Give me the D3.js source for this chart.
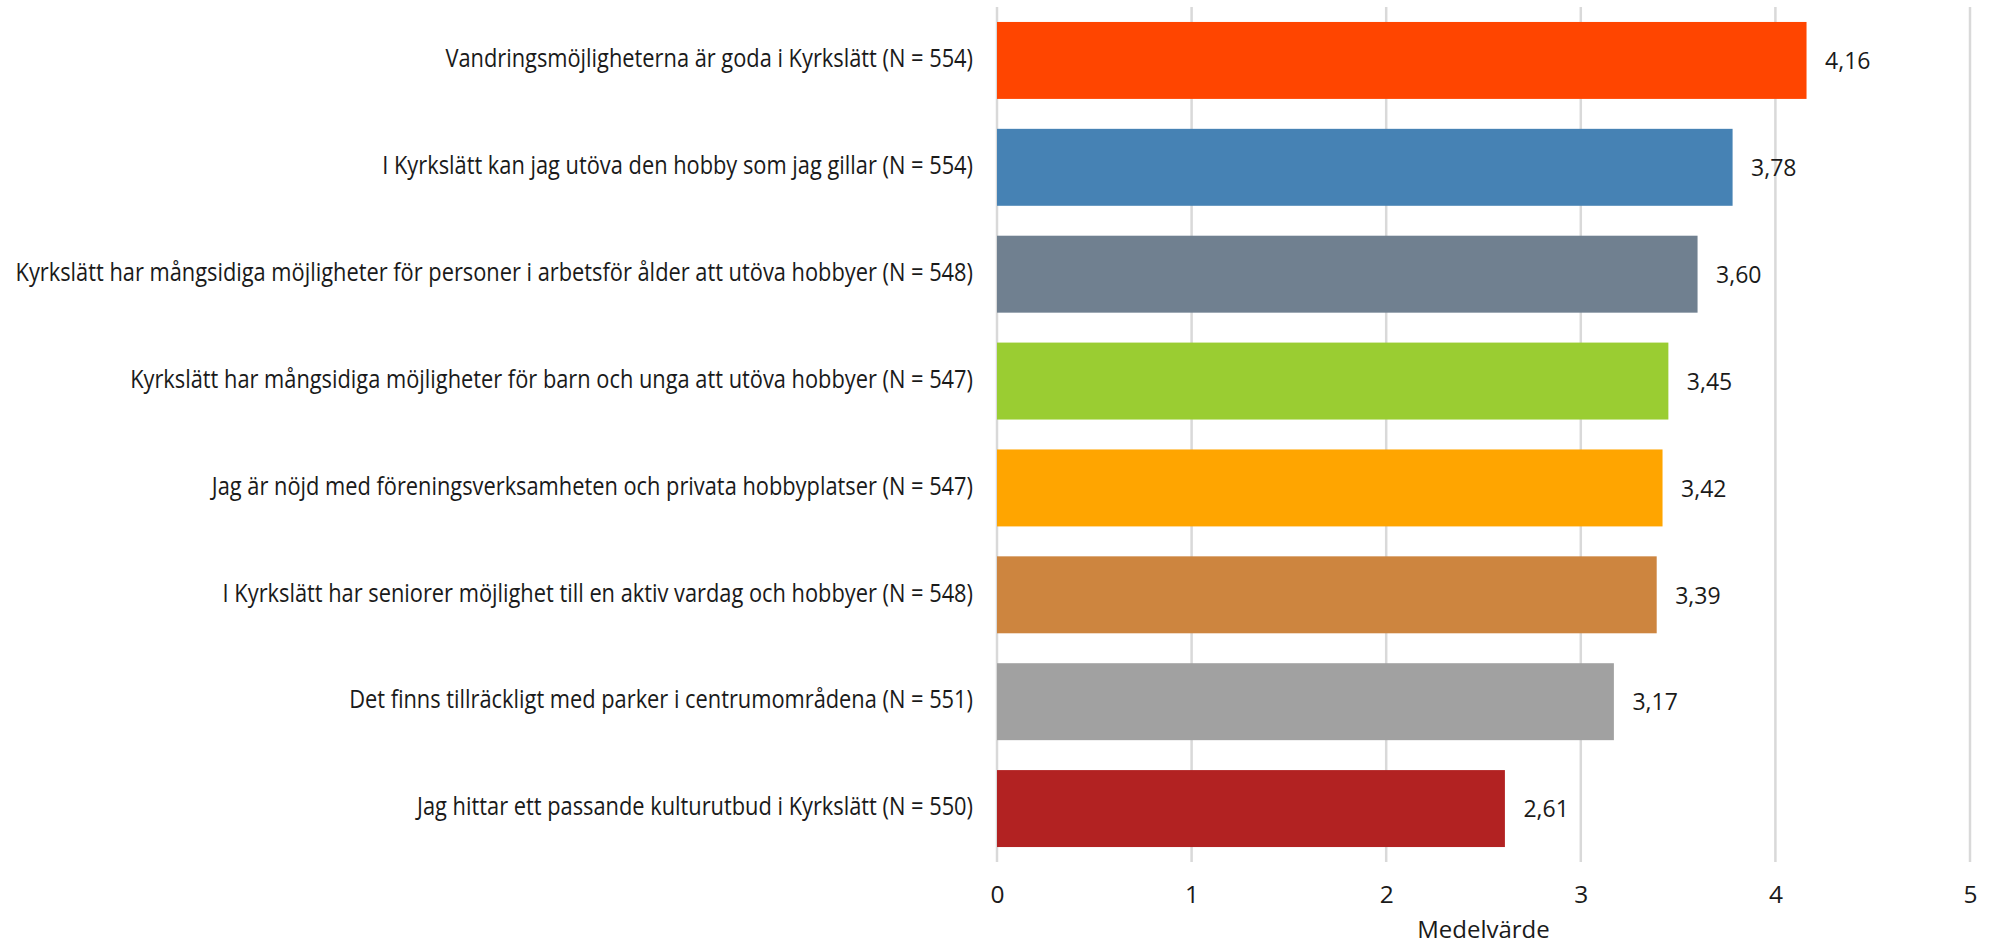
<!DOCTYPE html>
<html>
<head>
<meta charset="utf-8">
<script src="https://cdn.jsdelivr.net/npm/d3@7"></script>
<style>
  body { margin: 0; background: #fff; }
  text { font-family: "Open Sans", sans-serif; fill: #1a1a1a; }
</style>
</head>
<body>
<div id="chart"></div>
<script>
var width = 1996;
var height = 945;

var categories = [
    "Vandringsmöjligheterna är goda i Kyrkslätt (N = 554)",
    "I Kyrkslätt kan jag utöva den hobby som jag gillar (N = 554)",
    "Kyrkslätt har mångsidiga möjligheter för personer i arbetsför ålder att utöva hobbyer (N = 548)",
    "Kyrkslätt har mångsidiga möjligheter för barn och unga att utöva hobbyer (N = 547)",
    "Jag är nöjd med föreningsverksamheten och privata hobbyplatser (N = 547)",
    "I Kyrkslätt har seniorer möjlighet till en aktiv vardag och hobbyer (N = 548)",
    "Det finns tillräckligt med parker i centrumområdena (N = 551)",
    "Jag hittar ett passande kulturutbud i Kyrkslätt (N = 550)"
];
var values = [4.16, 3.78, 3.60, 3.45, 3.42, 3.39, 3.17, 2.61];
var colors = ["#ff4500", "#4682b4", "#708090", "#9acd32", "#ffa500", "#cd853f", "#a1a1a1", "#b22222"];
var ticks = [0, 1, 2, 3, 4, 5];
var axisTitle = "Medelvärde";

var svg = d3.select("#chart")
    .append("svg")
    .attr("width", width)
    .attr("height", height);

var x = d3.scaleLinear()
    .domain([0, 5])
    .range([997, 1970]);

var y = d3.scaleBand()
    .domain(categories)
    .range([7, 862])
    .paddingInner(0.28)
    .paddingOuter(0.14);

// vertical gridlines
svg.append("g")
    .selectAll("line")
    .data(ticks)
    .enter()
    .append("line")
    .attr("x1", function(d) { return x(d); })
    .attr("x2", function(d) { return x(d); })
    .attr("y1", 7)
    .attr("y2", 862)
    .attr("stroke", "#d9d9d9")
    .attr("stroke-width", 2.5);

// bars
svg.append("g")
    .selectAll("rect")
    .data(d3.range(values.length))
    .enter()
    .append("rect")
    .attr("x", x(0))
    .attr("y", function(d) { return y(categories[d]); })
    .attr("width", function(d) { return x(values[d]) - x(0); })
    .attr("height", y.bandwidth())
    .attr("fill", function(d) { return colors[d]; });

// value labels
svg.append("g")
    .selectAll("text")
    .data(d3.range(values.length))
    .enter()
    .append("text")
    .attr("x", function(d) { return x(values[d]) + 18.5; })
    .attr("y", function(d) { return y(categories[d]) + y.bandwidth() / 2 + 8.8; })
    .attr("font-size", "23px")
    .text(function(d) { return values[d].toFixed(2).replace(".", ","); });

// category labels, squeezed horizontally like the original
var catG = svg.append("g");
var labels = catG.selectAll("text")
    .data(categories)
    .enter()
    .append("text")
    .attr("text-anchor", "end")
    .attr("font-size", "25.5px")
    .text(function(d) { return d; });

var longest = d3.max(labels.nodes(), function(n) { return n.getComputedTextLength(); });
var squeeze = 958 / longest;
labels.attr("transform", function(d) {
    return "translate(" + 973 + "," + (y(d) + y.bandwidth() / 2 + 6.8) + ") scale(" + squeeze + ",1)";
});

// x axis tick labels
var axis = svg.append("g")
    .attr("transform", "translate(0,862)")
    .call(d3.axisBottom(x).tickValues(ticks).tickSize(0).tickPadding(0).tickFormat(d3.format("d")));
axis.select(".domain").remove();
axis.selectAll("text")
    .attr("y", 40.7)
    .attr("dy", null)
    .attr("font-size", "24.5px")
    .attr("font-family", "Open Sans, sans-serif")
    .attr("fill", "#1a1a1a");

// axis title
svg.append("text")
    .attr("x", (x(0) + x(5)) / 2)
    .attr("y", 938)
    .attr("text-anchor", "middle")
    .attr("font-size", "24px")
    .text(axisTitle);
</script>
</body>
</html>
